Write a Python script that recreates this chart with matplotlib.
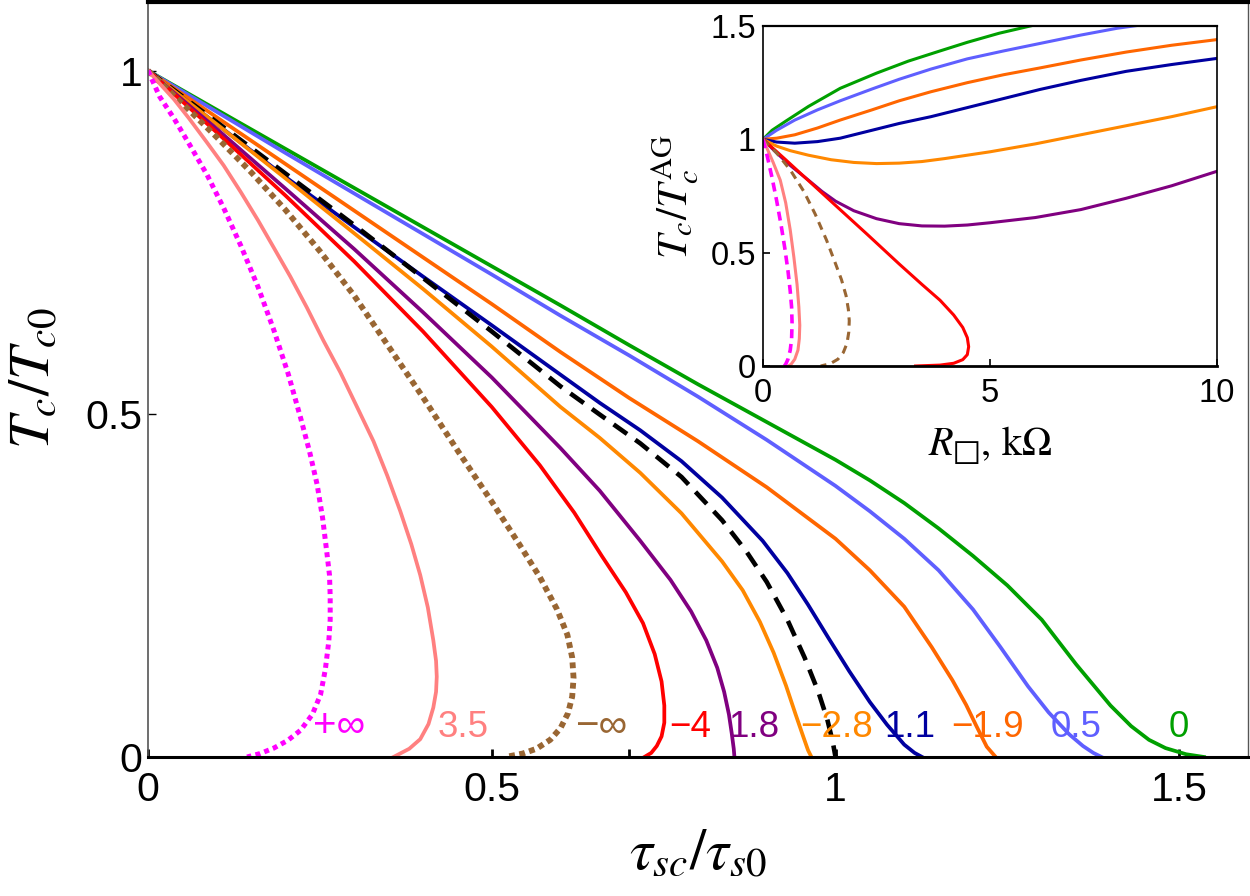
import matplotlib
matplotlib.use("Agg")
import matplotlib.pyplot as plt

plt.rcParams['font.family'] = ['Liberation Sans', 'DejaVu Sans']
plt.rcParams['mathtext.fontset'] = 'stix'

# ---- main panel: Tc/Tc0 vs tau_sc/tau_s0 ----
green_x = [0, 0.1, 0.2, 0.3, 0.4, 0.5, 0.6, 0.7, 0.8, 0.9, 1.0, 1.05, 1.1, 1.15, 1.2, 1.25, 1.3, 1.35, 1.4, 1.43, 1.456, 1.48, 1.51, 1.536]
green_y = [1, 0.943, 0.886, 0.829, 0.772, 0.715, 0.658, 0.6, 0.543, 0.488, 0.433, 0.403, 0.37, 0.333, 0.293, 0.25, 0.2, 0.135, 0.075, 0.045, 0.025, 0.013, 0.004, 0]
blue_x = [0, 0.1, 0.2, 0.3, 0.4, 0.5, 0.6, 0.7, 0.8, 0.9, 1.0, 1.05, 1.1, 1.15, 1.2, 1.24, 1.28, 1.31, 1.34, 1.36, 1.375, 1.387]
blue_y = [1, 0.94, 0.88, 0.821, 0.762, 0.703, 0.643, 0.585, 0.525, 0.462, 0.395, 0.358, 0.318, 0.272, 0.215, 0.16, 0.103, 0.065, 0.033, 0.016, 0.006, 0]
dorange_x = [0, 0.1, 0.2, 0.3, 0.4, 0.5, 0.6, 0.7, 0.8, 0.9, 1.0, 1.05, 1.1, 1.14, 1.17, 1.19, 1.205, 1.22, 1.233]
dorange_y = [1, 0.932, 0.864, 0.796, 0.728, 0.66, 0.59, 0.523, 0.46, 0.393, 0.318, 0.272, 0.219, 0.16, 0.112, 0.076, 0.045, 0.015, 0]
navy_x = [0, 0.1, 0.2, 0.3, 0.4, 0.5, 0.6, 0.657, 0.716, 0.776, 0.835, 0.894, 0.93, 0.96, 0.99, 1.02, 1.05, 1.075, 1.1, 1.115, 1.126]
navy_y = [1, 0.922, 0.845, 0.772, 0.7, 0.629, 0.557, 0.516, 0.476, 0.431, 0.378, 0.315, 0.268, 0.222, 0.173, 0.125, 0.08, 0.047, 0.018, 0.006, 0]
black_x = [0, 0.1, 0.2, 0.3, 0.4, 0.5, 0.6, 0.657, 0.716, 0.776, 0.835, 0.87, 0.9, 0.93, 0.955, 0.975, 0.988, 0.996, 1.0]
black_y = [1, 0.925, 0.85, 0.775, 0.698, 0.62, 0.54, 0.499, 0.457, 0.408, 0.345, 0.3, 0.255, 0.2, 0.145, 0.095, 0.055, 0.022, 0]
orange_x = [0, 0.1, 0.2, 0.3, 0.4, 0.5, 0.6, 0.657, 0.716, 0.776, 0.835, 0.865, 0.89, 0.91, 0.928, 0.942, 0.953, 0.96, 0.965]
orange_y = [1, 0.922, 0.843, 0.763, 0.682, 0.598, 0.51, 0.465, 0.414, 0.355, 0.285, 0.243, 0.197, 0.152, 0.104, 0.062, 0.03, 0.01, 0]
purple_x = [0, 0.1, 0.2, 0.3, 0.4, 0.5, 0.6, 0.657, 0.716, 0.76, 0.79, 0.812, 0.828, 0.838, 0.845, 0.849, 0.852, 0.853]
purple_y = [1, 0.915, 0.828, 0.74, 0.648, 0.553, 0.45, 0.388, 0.315, 0.258, 0.212, 0.17, 0.13, 0.095, 0.062, 0.035, 0.012, 0]
red_x = [0, 0.1, 0.2, 0.3, 0.4, 0.5, 0.57, 0.62, 0.66, 0.695, 0.72, 0.737, 0.747, 0.751, 0.751, 0.747, 0.74, 0.732, 0.722]
red_y = [1, 0.91, 0.818, 0.722, 0.62, 0.51, 0.425, 0.356, 0.293, 0.24, 0.195, 0.15, 0.11, 0.075, 0.05, 0.03, 0.016, 0.006, 0]
brown_x = [0, 0.05, 0.1, 0.15, 0.2, 0.25, 0.3, 0.35, 0.4, 0.45, 0.5, 0.54, 0.57, 0.595, 0.61, 0.617, 0.619, 0.617, 0.611, 0.6, 0.585, 0.565, 0.545, 0.52]
brown_y = [1, 0.952, 0.903, 0.852, 0.797, 0.737, 0.672, 0.598, 0.524, 0.447, 0.372, 0.31, 0.262, 0.215, 0.178, 0.145, 0.115, 0.088, 0.064, 0.042, 0.025, 0.012, 0.005, 0]
pink_x = [0, 0.038, 0.06, 0.086, 0.11, 0.135, 0.16, 0.183, 0.207, 0.231, 0.255, 0.28, 0.305, 0.328, 0.348, 0.367, 0.383, 0.396, 0.407, 0.415, 0.419, 0.42, 0.419, 0.415, 0.408, 0.396, 0.38, 0.357]
pink_y = [1, 0.958, 0.93, 0.895, 0.862, 0.823, 0.782, 0.742, 0.7, 0.655, 0.607, 0.56, 0.508, 0.46, 0.41, 0.358, 0.31, 0.265, 0.218, 0.17, 0.14, 0.117, 0.095, 0.072, 0.048, 0.026, 0.012, 0]
magenta_x = [0, 0.017, 0.038, 0.06, 0.086, 0.11, 0.135, 0.16, 0.183, 0.204, 0.222, 0.235, 0.246, 0.254, 0.26, 0.264, 0.265, 0.265, 0.263, 0.258, 0.251, 0.239, 0.222, 0.203, 0.183, 0.163, 0.144]
magenta_y = [1, 0.962, 0.93, 0.893, 0.848, 0.8, 0.745, 0.685, 0.622, 0.558, 0.494, 0.445, 0.397, 0.348, 0.299, 0.265, 0.234, 0.2, 0.169, 0.128, 0.091, 0.062, 0.039, 0.024, 0.013, 0.005, 0]

labels = ['+∞', '3.5', '−∞', '−4', '1.8', '−2.8', '1.1', '−1.9', '0.5', '0']
label_x = [0.278, 0.459, 0.659, 0.789, 0.881, 1.001, 1.108, 1.221, 1.35, 1.499]
label_colors = ['#ff00ff', '#ff8080', '#996633', '#ff0000', '#800080', '#ff8800',
                '#0000a0', '#ff6600', '#5f5fff', '#00a000']

# ---- inset: Tc/Tc^AG vs R_sq (kOhm) ----
in_green_x = [0, 0.2, 0.5, 1, 1.7, 2.5, 3.2, 3.9, 4.5, 5.2, 6.1, 7]
in_green_y = [1, 1.04, 1.08, 1.145, 1.225, 1.292, 1.345, 1.39, 1.428, 1.468, 1.51, 1.55]
in_blue_x = [0, 0.3, 0.7, 1.2, 1.7, 2.4, 3, 3.7, 4.5, 5.3, 6.1, 7, 7.8, 8.7, 9.5]
in_blue_y = [1, 1.04, 1.085, 1.13, 1.17, 1.222, 1.265, 1.31, 1.355, 1.39, 1.423, 1.46, 1.49, 1.515, 1.54]
in_dorange_x = [0, 0.3, 0.7, 1.2, 1.7, 2.4, 3, 3.7, 4.5, 5.3, 6.1, 7, 8, 9, 10]
in_dorange_y = [1, 1.005, 1.02, 1.05, 1.085, 1.13, 1.17, 1.21, 1.25, 1.285, 1.315, 1.35, 1.385, 1.415, 1.44]
in_navy_x = [0, 0.3, 0.7, 1.2, 1.7, 2.4, 3, 3.7, 4.5, 5.3, 6.1, 7, 8, 9, 10]
in_navy_y = [1, 0.988, 0.983, 0.99, 1.005, 1.04, 1.07, 1.1, 1.14, 1.18, 1.22, 1.26, 1.3, 1.33, 1.357]
in_orange_x = [0, 0.3, 0.6, 1, 1.5, 2, 2.5, 3, 3.5, 4, 5, 6, 7, 8, 9, 10]
in_orange_y = [1, 0.97, 0.95, 0.93, 0.91, 0.898, 0.893, 0.895, 0.902, 0.915, 0.945, 0.98, 1.02, 1.06, 1.1, 1.144]
in_purple_x = [0, 0.3, 0.6, 1, 1.3, 1.6, 2, 2.5, 3, 3.5, 4, 4.5, 5, 6, 7, 8, 9, 10]
in_purple_y = [1, 0.94, 0.885, 0.82, 0.77, 0.727, 0.685, 0.65, 0.628, 0.618, 0.617, 0.622, 0.632, 0.655, 0.69, 0.74, 0.795, 0.859]
in_red_x = [0, 0.5, 1, 1.6, 2.3, 3, 3.5, 3.9, 4.2, 4.4, 4.5, 4.53, 4.5, 4.4, 4.2, 3.9, 3.36]
in_red_y = [1, 0.91, 0.818, 0.708, 0.58, 0.45, 0.36, 0.29, 0.225, 0.17, 0.125, 0.085, 0.05, 0.028, 0.012, 0.004, 0]
in_brown_x = [0, 0.3, 0.6, 0.9, 1.15, 1.4, 1.6, 1.73, 1.83, 1.88, 1.9, 1.89, 1.85, 1.77, 1.65, 1.48, 1.27]
in_brown_y = [1, 0.94, 0.865, 0.77, 0.67, 0.555, 0.45, 0.38, 0.31, 0.25, 0.2, 0.15, 0.1, 0.06, 0.03, 0.01, 0]
in_pink_x = [0, 0.1, 0.22, 0.38, 0.5, 0.6, 0.68, 0.75, 0.79, 0.81, 0.8, 0.77, 0.7, 0.62, 0.56]
in_pink_y = [1, 0.955, 0.9, 0.82, 0.72, 0.6, 0.48, 0.36, 0.26, 0.18, 0.12, 0.07, 0.03, 0.008, 0]
in_magenta_x = [0, 0.1, 0.2, 0.3, 0.4, 0.48, 0.55, 0.6, 0.63, 0.64, 0.63, 0.6, 0.55, 0.5, 0.47]
in_magenta_y = [1, 0.92, 0.83, 0.73, 0.62, 0.52, 0.42, 0.33, 0.26, 0.19, 0.12, 0.07, 0.03, 0.008, 0]

W, H = 1250, 896
fig = plt.figure(figsize=(W / 100, H / 100), dpi=100)

ax = fig.add_axes([148 / W, 1 - 757 / H, 1100 / W, 755 / H])
lw = 2.7
ax.plot(green_x, green_y, color='#00a000', lw=lw)
ax.plot(blue_x, blue_y, color='#5f5fff', lw=lw)
ax.plot(dorange_x, dorange_y, color='#ff6600', lw=lw)
ax.plot(navy_x, navy_y, color='#0000a0', lw=lw)
ax.plot(black_x, black_y, color='black', lw=3.3, dashes=(3.6, 2.2))
ax.plot(orange_x, orange_y, color='#ff8800', lw=lw)
ax.plot(purple_x, purple_y, color='#800080', lw=lw)
ax.plot(red_x, red_y, color='#ff0000', lw=lw)
ax.plot(brown_x, brown_y, color='#996633', lw=4.2, dashes=(1, 0.75))
ax.plot(pink_x, pink_y, color='#ff8080', lw=lw)
ax.plot(magenta_x, magenta_y, color='#ff00ff', lw=3.6, dashes=(1, 0.85))

for t, x, c in zip(labels, label_x, label_colors):
    fs = 29 if '∞' in t else 26.5
    ax.text(x, 0.029, t, color=c, fontsize=fs, ha='center', va='baseline')

ax.set_xlim(0, 1.6)
ax.set_ylim(0, 1.1)
ax.set_xticks([0, 0.5, 0.7, 1, 1.5])
ax.set_xticklabels(['0', '0.5', '', '1', '1.5'])
ax.set_yticks([0, 0.5, 1])
ax.set_yticklabels(['0', '0.5', '1'])
ax.tick_params(axis='x', direction='in', length=6, width=2, labelsize=29.5, pad=10)
ax.tick_params(axis='y', direction='in', length=6, width=1, labelsize=29.5, pad=4)
ax.spines['bottom'].set_linewidth(2.2)
ax.spines['top'].set_linewidth(3)
ax.spines['left'].set_linewidth(1.2)
ax.spines['left'].set_color('#555555')
ax.spines['right'].set_linewidth(1)
ax.spines['right'].set_color('#555555')

fig.text(35 / W, 1 - 378 / H, r'$T_c/T_{c0}$', fontsize=42, rotation=90, ha='center', va='center')
fig.text(698 / W, 1 - 855 / H, r'$\tau_{sc}/\tau_{s0}$', fontsize=42, ha='center', va='center')

# inset
ins = fig.add_axes([763 / W, 1 - 366 / H, 454 / W, 340 / H])
ilw = 2.2
ins.plot(in_green_x, in_green_y, color='#00a000', lw=ilw)
ins.plot(in_blue_x, in_blue_y, color='#5f5fff', lw=ilw)
ins.plot(in_dorange_x, in_dorange_y, color='#ff6600', lw=ilw)
ins.plot(in_navy_x, in_navy_y, color='#0000a0', lw=ilw)
ins.plot(in_orange_x, in_orange_y, color='#ff8800', lw=ilw)
ins.plot(in_purple_x, in_purple_y, color='#800080', lw=ilw)
ins.plot(in_red_x, in_red_y, color='#ff0000', lw=ilw)
ins.plot(in_brown_x, in_brown_y, color='#996633', lw=ilw, dashes=(2.7, 2))
ins.plot(in_pink_x, in_pink_y, color='#ff8080', lw=ilw)
ins.plot(in_magenta_x, in_magenta_y, color='#ff00ff', lw=2.6, dashes=(2.5, 1.6))
ins.set_xlim(0, 10)
ins.set_ylim(0, 1.5)
ins.set_xticks([0, 5, 10])
ins.set_xticklabels(['0', '5', '10'])
ins.set_yticks([0, 0.5, 1, 1.5])
ins.set_yticklabels(['0', '0.5', '1', '1.5'])
ins.tick_params(direction='in', length=5, width=1.2, labelsize=23.5)
ins.tick_params(axis='x', pad=9)
ins.tick_params(axis='y', pad=5)
for s in ins.spines.values():
    s.set_linewidth(1.2)
ins.spines['bottom'].set_linewidth(2)
ins.spines['top'].set_linewidth(1.6)

fig.text(675 / W, 1 - 197 / H, r'$T_c/T_c^{\mathrm{AG}}$', fontsize=31, rotation=90, ha='center', va='center')
fig.text(990 / W, 1 - 446 / H, r'$R_{□},\,\mathrm{k}\Omega$', fontsize=29, ha='center', va='center')

fig.savefig('out.png', dpi=100)
